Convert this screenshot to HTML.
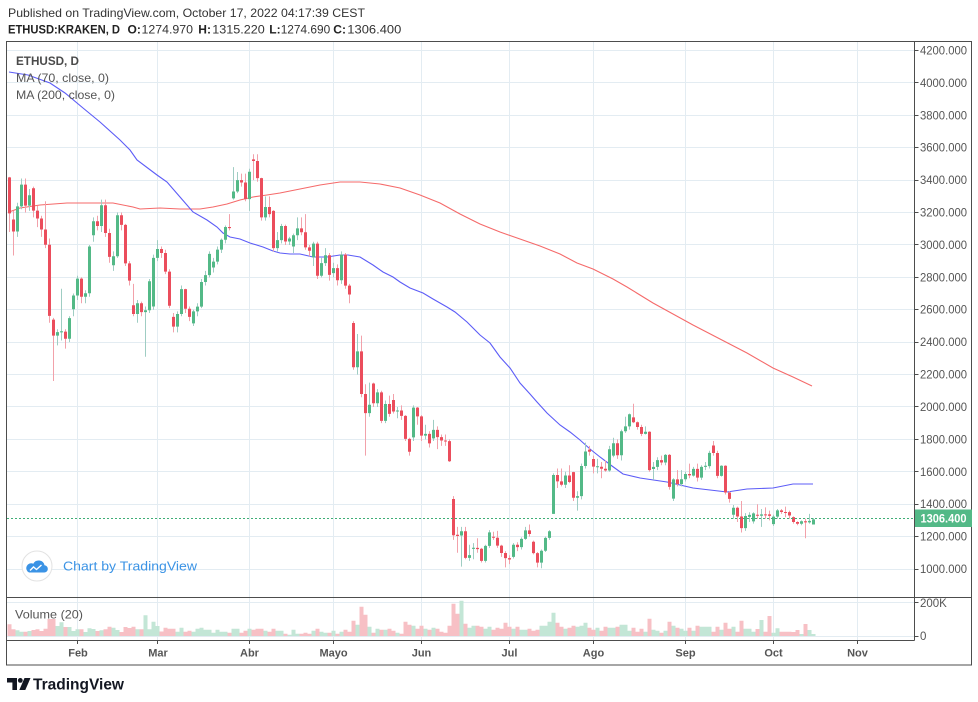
<!DOCTYPE html>
<html><head><meta charset="utf-8">
<style>
html,body{margin:0;padding:0;background:#fff;width:978px;height:702px;overflow:hidden}
svg{display:block}
text{font-family:"Liberation Sans",Arial,sans-serif}
</style></head>
<body>
<svg width="978" height="702" viewBox="0 0 978 702" xmlns="http://www.w3.org/2000/svg">
<rect width="978" height="702" fill="#fff"/>
<!-- header -->
<text x="8" y="17" font-size="12" fill="#333" textLength="357" lengthAdjust="spacingAndGlyphs">Published on TradingView.com, October 17, 2022 04:17:39 CEST</text>
<text x="8" y="33.5" font-size="12" font-weight="bold" fill="#222" textLength="112" lengthAdjust="spacingAndGlyphs">ETHUSD:KRAKEN, D</text>
<text x="127.5" y="33.5" font-size="12" font-weight="bold" fill="#222">O:</text>
<text x="141.5" y="33.5" font-size="12" fill="#333" textLength="51.5" lengthAdjust="spacingAndGlyphs">1274.970</text>
<text x="198.3" y="33.5" font-size="12" font-weight="bold" fill="#222">H:</text>
<text x="212.3" y="33.5" font-size="12" fill="#333" textLength="52.5" lengthAdjust="spacingAndGlyphs">1315.220</text>
<text x="269.3" y="33.5" font-size="12" font-weight="bold" fill="#222">L:</text>
<text x="280.7" y="33.5" font-size="12" fill="#333" textLength="49.5" lengthAdjust="spacingAndGlyphs">1274.690</text>
<text x="333.3" y="33.5" font-size="12" font-weight="bold" fill="#222">C:</text>
<text x="347.3" y="33.5" font-size="12" fill="#333" textLength="54" lengthAdjust="spacingAndGlyphs">1306.400</text>

<!-- grid -->
<g stroke="#e3ecf2" stroke-width="1" fill="none">
<path d="M7,50.5H914M7,82.5H914M7,115.5H914M7,147.5H914M7,180.5H914M7,212.5H914M7,244.5H914M7,277.5H914M7,309.5H914M7,342.5H914M7,374.5H914M7,406.5H914M7,439.5H914M7,471.5H914M7,504.5H914M7,536.5H914M7,569.5H914"/>
<path d="M7,602.5H914M7,636.5H914"/>
<path d="M77.5,42V640M157.5,42V640M249.5,42V640M333.5,42V640M421.5,42V640M509.5,42V640M593.5,42V640M685.5,42V640M773.5,42V640M857.5,42V640"/>
</g>

<!-- volume -->
<g transform="translate(7.5,636) scale(4,-1)">
<path fill="#c3e6d6" d="M2,0V5.7h1V0zM3,0V4.3h1V0zM5,0V5h1V0zM12,0V10h1V0zM13,0V13.7h1V0zM15,0V9h1V0zM16,0V5h1V0zM17,0V6.7h1V0zM19,0V4h1V0zM20,0V7.7h1V0zM21,0V7h1V0zM23,0V5.7h1V0zM26,0V8.3h1V0zM27,0V6h1V0zM32,0V6.7h1V0zM34,0V20.7h1V0zM35,0V6.7h1V0zM36,0V14.3h1V0zM37,0V10h1V0zM42,0V4.3h1V0zM43,0V8.3h1V0zM46,0V4.3h1V0zM47,0V7.3h1V0zM48,0V8.3h1V0zM49,0V6.3h1V0zM50,0V6.3h1V0zM51,0V3.3h1V0zM52,0V6.3h1V0zM53,0V4.3h1V0zM54,0V4.3h1V0zM56,0V7.3h1V0zM57,0V7.3h1V0zM60,0V7.3h1V0zM64,0V5.3h1V0zM67,0V5.3h1V0zM68,0V5.3h1V0zM70,0V1.3h1V0zM71,0V6.3h1V0zM72,0V2.3h1V0zM76,0V5.3h1V0zM78,0V4.3h1V0zM79,0V3.3h1V0zM81,0V5.3h1V0zM83,0V4.3h1V0zM87,0V11.3h1V0zM90,0V9.3h1V0zM92,0V7.3h1V0zM94,0V6.3h1V0zM97,0V3.3h1V0zM101,0V10.3h1V0zM104,0V7.3h1V0zM106,0V8.3h1V0zM113,0V35.3h1V0zM115,0V8.3h1V0zM116,0V10.3h1V0zM119,0V7.3h1V0zM120,0V9.3h1V0zM126,0V7.3h1V0zM128,0V6.3h1V0zM129,0V6.3h1V0zM133,0V10.3h1V0zM134,0V10.3h1V0zM135,0V14.3h1V0zM136,0V23.3h1V0zM139,0V7.3h1V0zM142,0V9.3h1V0zM143,0V10.3h1V0zM144,0V13.3h1V0zM147,0V8.3h1V0zM150,0V8.3h1V0zM151,0V8.3h1V0zM153,0V11.3h1V0zM154,0V11.3h1V0zM155,0V5.3h1V0zM159,0V4.3h1V0zM161,0V6.3h1V0zM162,0V5.3h1V0zM164,0V5.3h1V0zM166,0V10.3h1V0zM168,0V7.3h1V0zM169,0V5.3h1V0zM171,0V5.3h1V0zM173,0V9.3h1V0zM174,0V9.3h1V0zM175,0V9.3h1V0zM178,0V6.3h1V0zM181,0V9.3h1V0zM184,0V7.3h1V0zM185,0V7.3h1V0zM186,0V4.3h1V0zM188,0V16h1V0zM191,0V3.3h1V0zM192,0V7.7h1V0zM198,0V2h1V0zM200,0V6h1V0zM201,0V2h1V0z"/>
<path fill="#f7c0c5" d="M0,0V11.7h1V0zM1,0V6.7h1V0zM4,0V4.3h1V0zM6,0V6h1V0zM7,0V6.7h1V0zM8,0V5h1V0zM9,0V7.3h1V0zM10,0V17h1V0zM11,0V17h1V0zM14,0V9h1V0zM18,0V6.7h1V0zM22,0V5h1V0zM24,0V6.7h1V0zM25,0V9.3h1V0zM28,0V4h1V0zM29,0V9h1V0zM30,0V8h1V0zM31,0V9.3h1V0zM33,0V6.7h1V0zM38,0V4.5h1V0zM39,0V8.3h1V0zM40,0V7.3h1V0zM41,0V7.3h1V0zM44,0V4.3h1V0zM45,0V5.3h1V0zM55,0V3.3h1V0zM58,0V3.3h1V0zM59,0V5.3h1V0zM61,0V6.3h1V0zM62,0V7.3h1V0zM63,0V7.3h1V0zM65,0V4.3h1V0zM66,0V7.3h1V0zM69,0V2.3h1V0zM73,0V2.3h1V0zM74,0V3.3h1V0zM75,0V2.3h1V0zM77,0V7.3h1V0zM80,0V3.3h1V0zM82,0V2.3h1V0zM84,0V6.3h1V0zM85,0V4.3h1V0zM86,0V15.3h1V0zM88,0V29.3h1V0zM89,0V21.3h1V0zM91,0V3.3h1V0zM93,0V6.3h1V0zM95,0V7.3h1V0zM96,0V5.3h1V0zM98,0V2.3h1V0zM99,0V14.3h1V0zM100,0V11.3h1V0zM102,0V7.3h1V0zM103,0V10.3h1V0zM105,0V6.3h1V0zM107,0V7.3h1V0zM108,0V4.3h1V0zM109,0V3.3h1V0zM110,0V10.3h1V0zM111,0V32.3h1V0zM112,0V22.3h1V0zM114,0V12.3h1V0zM117,0V10.3h1V0zM118,0V9.3h1V0zM121,0V6.3h1V0zM122,0V8.3h1V0zM123,0V7.3h1V0zM124,0V13.3h1V0zM125,0V9.3h1V0zM127,0V9.3h1V0zM130,0V7.3h1V0zM131,0V5.3h1V0zM132,0V6.3h1V0zM137,0V13.3h1V0zM138,0V9.3h1V0zM140,0V8.3h1V0zM141,0V10.3h1V0zM145,0V8.3h1V0zM146,0V6.3h1V0zM148,0V5.3h1V0zM149,0V9.3h1V0zM152,0V9.3h1V0zM156,0V8.3h1V0zM157,0V4.3h1V0zM158,0V7.3h1V0zM160,0V17.3h1V0zM163,0V3.3h1V0zM165,0V14.3h1V0zM167,0V8.3h1V0zM170,0V8.3h1V0zM172,0V10.3h1V0zM176,0V4.3h1V0zM177,0V9.3h1V0zM179,0V13.3h1V0zM180,0V7.3h1V0zM182,0V4.3h1V0zM183,0V15.3h1V0zM187,0V7h1V0zM189,0V4.3h1V0zM190,0V20h1V0zM193,0V4.3h1V0zM194,0V4.3h1V0zM195,0V4.3h1V0zM196,0V4h1V0zM197,0V6h1V0zM199,0V12h1V0z"/>
</g>

<!-- MA lines -->
<polyline fill="none" stroke="#f56a6a" stroke-width="1.1" points="9,212 20,208 40,205 67,203 113,203 133,207 140,209 160,208 180,209 200,209 213,207 227,204 240,200 253,197 267,195 280,193 300,189 320,185 340,182 360,182 380,184 400,188 420,195 440,203 460,214 480,224 500,232 520,239 540,246 560,254 577,263 593,269 613,279 627,287 653,303 673,314 693,325 720,339 747,353 773,368 793,377 812,386"/>
<polyline fill="none" stroke="#5c5cf7" stroke-width="1.1" points="9,72 28,75 50,83 65,93 83,108 100,122 120,140 130,150 137,160 157,175 167,182 180,197 193,212 207,220 217,227 223,233 230,237 240,239 250,243 263,247 273,251 280,253 290,254 300,254 313,257 327,257 340,255 348,255 360,257 373,265 383,272 393,277 400,282 410,288 423,293 433,299 447,307 455,312 467,322 480,335 490,343 500,357 510,368 520,383 530,394 537,402 547,413 560,425 570,432 580,440 590,449 600,457 612,466 623,474 640,478 667,482 693,488 727,492 747,489 773,488 793,484 813,484"/>

<!-- candles -->
<g transform="matrix(4,0,0,-0.16203,8,731.03)">
<path fill="#9fcdc3" d="M2.25,3050V3260h.25V3050zM3.25,3220V3410h.25V3220zM5.25,3210V3345h.25V3210zM12.25,2380V2480h.25V2380zM13.25,2410V2730h.25V2410zM15.25,2400V2560h.25V2400zM16.25,2560V2700h.25V2560zM17.25,2660V2810h.25V2660zM19.25,2640V2720h.25V2640zM20.25,2680V3000h.25V2680zM21.25,3020V3170h.25V3020zM23.25,3080V3280h.25V3080zM26.25,2840V2960h.25V2840zM27.25,2920V3200h.25V2920zM32.25,2520V2660h.25V2520zM34.25,2310V2620h.25V2310zM35.25,2580V2790h.25V2580zM36.25,2600V2940h.25V2600zM37.25,2900V3030h.25V2900zM42.25,2460V2590h.25V2460zM43.25,2560V2750h.25V2560zM46.25,2500V2600h.25V2500zM47.25,2560V2640h.25V2560zM48.25,2610V2790h.25V2610zM49.25,2750V2840h.25V2750zM50.25,2800V2960h.25V2800zM51.25,2830V2920h.25V2830zM52.25,2880V2990h.25V2880zM53.25,2950V3040h.25V2950zM54.25,3010V3120h.25V3010zM56.25,3280V3480h.25V3280zM57.25,3320V3450h.25V3320zM60.25,3210V3470h.25V3210zM64.25,3150V3300h.25V3150zM67.25,2960V3080h.25V2960zM68.25,3010V3130h.25V3010zM70.25,3000V3050h.25V3000zM71.25,2950V3070h.25V2950zM72.25,3030V3170h.25V3030zM76.25,2870V3020h.25V2870zM78.25,2800V2920h.25V2800zM79.25,2870V2980h.25V2870zM81.25,2800V2890h.25V2800zM83.25,2760V2960h.25V2760zM87.25,2200V2450h.25V2200zM90.25,1940V2150h.25V1940zM92.25,2000V2110h.25V2000zM94.25,1900V2040h.25V1900zM97.25,1930V2000h.25V1930zM101.25,1790V2010h.25V1790zM104.25,1800V1890h.25V1800zM106.25,1790V1920h.25V1790zM113.25,1015V1260h.25V1015zM115.25,1050V1150h.25V1050zM116.25,1060V1160h.25V1060zM119.25,1040V1150h.25V1040zM120.25,1130V1240h.25V1130zM126.25,1065V1160h.25V1065zM128.25,1120V1195h.25V1120zM129.25,1180V1260h.25V1180zM133.25,1005V1120h.25V1005zM134.25,1105V1200h.25V1105zM135.25,1180V1240h.25V1180zM136.25,1340V1590h.25V1340zM139.25,1500V1600h.25V1500zM142.25,1360V1480h.25V1360zM143.25,1430V1650h.25V1430zM144.25,1620V1780h.25V1620zM147.25,1590V1680h.25V1590zM150.25,1600V1760h.25V1600zM151.25,1690V1810h.25V1690zM153.25,1670V1860h.25V1670zM154.25,1840V1940h.25V1840zM155.25,1860V1960h.25V1860zM159.25,1830V1880h.25V1830zM161.25,1550V1660h.25V1550zM162.25,1610V1690h.25V1610zM164.25,1640V1710h.25V1640zM166.25,1420V1560h.25V1420zM168.25,1510V1610h.25V1510zM169.25,1540V1600h.25V1540zM171.25,1570V1630h.25V1570zM173.25,1550V1640h.25V1550zM174.25,1610V1660h.25V1610zM175.25,1620V1730h.25V1620zM178.25,1570V1640h.25V1570zM181.25,1310V1395h.25V1310zM184.25,1235V1345h.25V1235zM185.25,1290V1350h.25V1290zM186.25,1280V1350h.25V1280zM188.25,1260V1370h.25V1260zM191.25,1265V1335h.25V1265zM192.25,1310V1370h.25V1310zM198.25,1270V1300h.25V1270zM200.25,1280V1340h.25V1280zM201.25,1275V1315h.25V1275z"/>
<path fill="#f2a1aa" d="M.25,3080V3420h.25V3080zM1.25,2935V3210h.25V2935zM4.25,3200V3410h.25V3200zM6.25,3170V3360h.25V3170zM7.25,3110V3240h.25V3110zM8.25,3050V3180h.25V3050zM9.25,2980V3270h.25V2980zM10.25,2520V3040h.25V2520zM11.25,2160V2550h.25V2160zM14.25,2360V2480h.25V2360zM18.25,2640V2800h.25V2640zM22.25,3090V3180h.25V3090zM24.25,3050V3280h.25V3050zM25.25,2890V3100h.25V2890zM28.25,3090V3200h.25V3090zM29.25,2870V3130h.25V2870zM30.25,2750V2900h.25V2750zM31.25,2560V2760h.25V2560zM33.25,2560V2650h.25V2560zM38.25,2920V2990h.25V2920zM39.25,2820V2970h.25V2820zM40.25,2610V2850h.25V2610zM41.25,2460V2580h.25V2460zM44.25,2580V2730h.25V2580zM45.25,2530V2620h.25V2530zM55.25,3090V3190h.25V3090zM58.25,3360V3440h.25V3360zM59.25,3270V3440h.25V3270zM61.25,3400V3560h.25V3400zM62.25,3390V3560h.25V3390zM63.25,3150V3415h.25V3150zM65.25,3170V3300h.25V3170zM66.25,2960V3215h.25V2960zM69.25,3000V3125h.25V3000zM73.25,3060V3170h.25V3060zM74.25,2970V3190h.25V2970zM75.25,2930V3000h.25V2930zM77.25,2790V3020h.25V2790zM80.25,2780V2950h.25V2780zM82.25,2750V2880h.25V2750zM84.25,2730V2950h.25V2730zM85.25,2640V2760h.25V2640zM86.25,2230V2530h.25V2230zM88.25,2060V2440h.25V2060zM89.25,1700V2140h.25V1700zM91.25,2000V2150h.25V2000zM93.25,1900V2100h.25V1900zM95.25,1940V2070h.25V1940zM96.25,1960V2080h.25V1960zM98.25,1920V2010h.25V1920zM99.25,1790V1950h.25V1790zM100.25,1700V1810h.25V1700zM102.25,1890V2000h.25V1890zM103.25,1790V1950h.25V1790zM105.25,1750V1850h.25V1750zM107.25,1740V1880h.25V1740zM108.25,1760V1830h.25V1760zM109.25,1760V1830h.25V1760zM110.25,1660V1800h.25V1660zM111.25,1180V1450h.25V1180zM112.25,1100V1260h.25V1100zM114.25,1060V1260h.25V1060zM117.25,1100V1190h.25V1100zM118.25,1040V1130h.25V1040zM121.25,1180V1230h.25V1180zM122.25,1130V1235h.25V1130zM123.25,1075V1150h.25V1075zM124.25,1010V1110h.25V1010zM125.25,1030V1085h.25V1030zM127.25,1110V1165h.25V1110zM130.25,1200V1275h.25V1200zM131.25,1090V1175h.25V1090zM132.25,1010V1105h.25V1010zM137.25,1500V1620h.25V1500zM138.25,1510V1620h.25V1510zM140.25,1530V1640h.25V1530zM141.25,1420V1600h.25V1420zM145.25,1700V1760h.25V1700zM146.25,1590V1700h.25V1590zM148.25,1560V1660h.25V1560zM149.25,1600V1670h.25V1600zM152.25,1680V1800h.25V1680zM156.25,1900V2020h.25V1900zM157.25,1860V1910h.25V1860zM158.25,1820V1890h.25V1820zM160.25,1600V1850h.25V1600zM163.25,1640V1700h.25V1640zM165.25,1490V1710h.25V1490zM167.25,1510V1610h.25V1510zM170.25,1560V1650h.25V1560zM172.25,1540V1650h.25V1540zM176.25,1700V1790h.25V1700zM177.25,1560V1730h.25V1560zM179.25,1460V1640h.25V1460zM180.25,1410V1480h.25V1410zM182.25,1290V1385h.25V1290zM183.25,1225V1420h.25V1225zM187.25,1310V1400h.25V1310zM189.25,1310V1380h.25V1310zM190.25,1300V1360h.25V1300zM193.25,1340V1370h.25V1340zM194.25,1320V1385h.25V1320zM195.25,1310V1360h.25V1310zM196.25,1280V1325h.25V1280zM197.25,1270V1295h.25V1270zM199.25,1190V1310h.25V1190z"/>
<path fill="#53b987" d="M2,3083V3238h.75V3083zM3,3238V3372h.75V3238zM5,3243V3307h.75V3243zM12,2440V2462h.75V2440zM13,2460V2467h.75V2460zM15,2421V2548h.75V2421zM16,2603V2688h.75V2603zM17,2688V2792h.75V2688zM19,2680V2702h.75V2680zM20,2702V2990h.75V2702zM21,3060V3146h.75V3060zM23,3117V3245h.75V3117zM26,2875V2930h.75V2875zM27,2930V3183h.75V2930zM32,2574V2640h.75V2574zM34,2585V2597h.75V2585zM35,2597V2776h.75V2597zM36,2620V2920h.75V2620zM37,2920V2975h.75V2920zM42,2496V2574h.75V2496zM43,2574V2727h.75V2574zM46,2516V2590h.75V2516zM47,2590V2619h.75V2590zM48,2619V2771h.75V2619zM49,2771V2814h.75V2771zM50,2814V2945h.75V2814zM51,2861V2897h.75V2861zM52,2897V2971h.75V2897zM53,2971V3032h.75V2971zM54,3032V3111h.75V3032zM56,3287V3330h.75V3287zM57,3330V3400h.75V3330zM60,3283V3452h.75V3283zM64,3170V3234h.75V3170zM67,2980V3030h.75V2980zM68,3030V3117h.75V3030zM70,3021V3040h.75V3021zM71,2990V3060h.75V2990zM72,3060V3102h.75V3060zM76,2923V3008h.75V2923zM78,2810V2888h.75V2810zM79,2888V2936h.75V2888zM81,2826V2857h.75V2826zM83,2782V2940h.75V2782zM87,2245V2343h.75V2245zM90,1962V2014h.75V1962zM92,2023V2090h.75V2023zM94,1914V2018h.75V1914zM97,1972V1978h.75V1972zM101,1812V1996h.75V1812zM104,1823V1834h.75V1823zM106,1806V1859h.75V1806zM113,1207V1233h.75V1207zM115,1069V1086h.75V1069zM116,1124V1131h.75V1124zM119,1050V1143h.75V1050zM120,1143V1226h.75V1143zM126,1075V1150h.75V1075zM128,1135V1186h.75V1135zM129,1186V1238h.75V1186zM133,1039V1113h.75V1039zM134,1113V1192h.75V1113zM135,1192V1233h.75V1192zM136,1340V1580h.75V1340zM139,1520V1577h.75V1520zM142,1440V1450h.75V1440zM143,1450V1636h.75V1450zM144,1636V1725h.75V1636zM147,1628V1634h.75V1628zM150,1608V1739h.75V1608zM151,1700V1776h.75V1700zM153,1702V1850h.75V1702zM154,1850V1880h.75V1850zM155,1880V1955h.75V1880zM159,1834V1847h.75V1834zM161,1617V1630h.75V1617zM162,1630V1672h.75V1630zM164,1657V1704h.75V1657zM166,1434V1553h.75V1434zM168,1524V1554h.75V1524zM169,1554V1586h.75V1554zM171,1576V1618h.75V1576zM173,1564V1630h.75V1564zM174,1630V1637h.75V1630zM175,1635V1717h.75V1635zM178,1575V1637h.75V1575zM181,1335V1378h.75V1335zM184,1252V1327h.75V1252zM185,1322V1334h.75V1322zM186,1294V1343h.75V1294zM188,1329V1337h.75V1329zM191,1277V1323h.75V1277zM192,1323V1362h.75V1323zM198,1279V1295h.75V1279zM200,1288V1297h.75V1288zM201,1275V1306h.75V1275z"/>
<path fill="#eb4d5c" d="M0,3417V3195h.75V3417zM1,3157V3083h.75V3157zM4,3372V3243h.75V3372zM6,3350V3212h.75V3350zM7,3212V3163h.75V3212zM8,3163V3095h.75V3163zM9,3095V3001h.75V3095zM10,3001V2562h.75V3001zM11,2539V2440h.75V2539zM14,2465V2421h.75V2465zM18,2792V2680h.75V2792zM22,3146V3117h.75V3146zM24,3245V3074h.75V3245zM25,3074V2926h.75V3074zM28,3183V3124h.75V3183zM29,3124V2886h.75V3124zM30,2886V2780h.75V2886zM31,2628V2574h.75V2628zM33,2640V2585h.75V2640zM38,2975V2950h.75V2975zM39,2950V2835h.75V2950zM40,2835V2625h.75V2835zM41,2556V2496h.75V2556zM44,2727V2606h.75V2727zM45,2606V2556h.75V2606zM55,3111V3104h.75V3111zM58,3400V3385h.75V3400zM59,3385V3283h.75V3385zM61,3528V3518h.75V3528zM62,3518V3412h.75V3518zM63,3412V3170h.75V3412zM65,3234V3190h.75V3234zM66,3210V2980h.75V3210zM69,3117V3021h.75V3117zM73,3102V3078h.75V3102zM74,3078V2985h.75V3078zM75,2985V2964h.75V2985zM77,3008V2810h.75V3008zM80,2936V2815h.75V2936zM82,2857V2782h.75V2857zM84,2940V2749h.75V2940zM85,2749V2694h.75V2749zM86,2518V2245h.75V2518zM88,2343V2080h.75V2343zM89,2080V1962h.75V2080zM91,2145V2023h.75V2145zM93,2090V1914h.75V2090zM95,2018V1957h.75V2018zM96,2043V1972h.75V2043zM98,1978V1945h.75V1978zM99,1945V1803h.75V1945zM100,1803V1724h.75V1803zM102,1996V1942h.75V1996zM103,1942V1823h.75V1942zM105,1834V1775h.75V1834zM107,1859V1814h.75V1859zM108,1814V1793h.75V1814zM109,1793V1787h.75V1793zM110,1789V1665h.75V1789zM111,1432V1208h.75V1432zM112,1211V1204h.75V1211zM114,1233V1069h.75V1233zM117,1130V1123h.75V1130zM118,1125V1050h.75V1125zM121,1199V1193h.75V1199zM122,1193V1144h.75V1193zM123,1144V1099h.75V1144zM124,1099V1067h.75V1099zM125,1067V1059h.75V1067zM127,1150V1135h.75V1150zM130,1238V1216h.75V1238zM131,1168V1098h.75V1168zM132,1098V1039h.75V1098zM137,1580V1541h.75V1580zM138,1541V1520h.75V1541zM140,1577V1537h.75V1577zM141,1598V1440h.75V1598zM145,1737V1724h.75V1737zM146,1679V1632h.75V1679zM148,1631V1619h.75V1631zM149,1619V1608h.75V1619zM152,1776V1702h.75V1776zM156,1936V1906h.75V1936zM157,1906V1876h.75V1906zM158,1876V1834h.75V1876zM160,1847V1610h.75V1847zM163,1672V1657h.75V1672zM165,1704V1507h.75V1704zM167,1553V1524h.75V1553zM170,1586V1578h.75V1586zM172,1618V1564h.75V1618zM176,1762V1716h.75V1762zM177,1716V1575h.75V1716zM179,1637V1472h.75V1637zM180,1472V1433h.75V1472zM182,1378V1324h.75V1378zM183,1324V1252h.75V1324zM187,1335V1329h.75V1335zM189,1337V1331h.75V1337zM190,1337V1328h.75V1337zM193,1362V1352h.75V1362zM194,1352V1346h.75V1352zM195,1351V1330h.75V1351zM196,1320V1290h.75V1320zM197,1290V1279h.75V1290zM199,1295V1288h.75V1295z"/>
</g>

<!-- last price dashed line -->
<line x1="7" y1="518.5" x2="914" y2="518.5" stroke="#3fae76" stroke-width="1" stroke-dasharray="2,2"/>

<!-- legend -->
<text x="16" y="65" font-size="12" font-weight="bold" fill="#4a4a4a" textLength="63" lengthAdjust="spacingAndGlyphs">ETHUSD, D</text>
<text x="16" y="82" font-size="12" fill="#555" textLength="93" lengthAdjust="spacingAndGlyphs">MA (70, close, 0)</text>
<text x="16" y="99" font-size="12" fill="#555" textLength="99" lengthAdjust="spacingAndGlyphs">MA (200, close, 0)</text>
<text x="15" y="618.5" font-size="12" fill="#555" textLength="68" lengthAdjust="spacingAndGlyphs">Volume (20)</text>

<!-- watermark -->
<circle cx="37" cy="566" r="15" fill="#fff" stroke="#e2e2e2" stroke-width="1"/>
<path d="M29,572.5h15a3.6,3.6 0 0 0 0.5,-7.2a6,6 0 0 0 -11.2,-1.6a4.4,4.4 0 0 0 -4.3,8.8z" fill="#3b93e5"/>
<path d="M30,570.5l3.5,-3.5l3,2.5l5,-4.5" fill="none" stroke="#fff" stroke-width="1.4"/>
<text x="63" y="570.5" font-size="13" fill="#3b93e5" textLength="134" lengthAdjust="spacingAndGlyphs">Chart by TradingView</text>

<!-- frame & axes -->
<g stroke="#4d4d4d" fill="none" stroke-width="1">
<rect x="6.5" y="41.5" width="965" height="623.5"/>
<path d="M914.5,42V640.5M7,597.5H971M7,640.5H914.5"/>
<path d="M914.5,50.5h4M914.5,82.5h4M914.5,115.5h4M914.5,147.5h4M914.5,180.5h4M914.5,212.5h4M914.5,244.5h4M914.5,277.5h4M914.5,309.5h4M914.5,342.5h4M914.5,374.5h4M914.5,406.5h4M914.5,439.5h4M914.5,471.5h4M914.5,504.5h4M914.5,536.5h4M914.5,569.5h4M914.5,602.5h4M914.5,636.5h4"/>
<path d="M77.5,640v4M157.5,640v4M249.5,640v4M333.5,640v4M421.5,640v4M509.5,640v4M593.5,640v4M685.5,640v4M773.5,640v4M857.5,640v4"/>
</g>

<!-- price labels -->
<g font-size="11.5" fill="#555">
<text x="920" y="54.5" textLength="47" lengthAdjust="spacingAndGlyphs">4200.000</text>
<text x="920" y="86.9" textLength="47" lengthAdjust="spacingAndGlyphs">4000.000</text>
<text x="920" y="119.3" textLength="47" lengthAdjust="spacingAndGlyphs">3800.000</text>
<text x="920" y="151.7" textLength="47" lengthAdjust="spacingAndGlyphs">3600.000</text>
<text x="920" y="184.1" textLength="47" lengthAdjust="spacingAndGlyphs">3400.000</text>
<text x="920" y="216.5" textLength="47" lengthAdjust="spacingAndGlyphs">3200.000</text>
<text x="920" y="248.9" textLength="47" lengthAdjust="spacingAndGlyphs">3000.000</text>
<text x="920" y="281.3" textLength="47" lengthAdjust="spacingAndGlyphs">2800.000</text>
<text x="920" y="313.7" textLength="47" lengthAdjust="spacingAndGlyphs">2600.000</text>
<text x="920" y="346.2" textLength="47" lengthAdjust="spacingAndGlyphs">2400.000</text>
<text x="920" y="378.6" textLength="47" lengthAdjust="spacingAndGlyphs">2200.000</text>
<text x="920" y="411" textLength="47" lengthAdjust="spacingAndGlyphs">2000.000</text>
<text x="920" y="443.4" textLength="47" lengthAdjust="spacingAndGlyphs">1800.000</text>
<text x="920" y="475.8" textLength="47" lengthAdjust="spacingAndGlyphs">1600.000</text>
<text x="920" y="508.2" textLength="47" lengthAdjust="spacingAndGlyphs">1400.000</text>
<text x="920" y="540.6" textLength="47" lengthAdjust="spacingAndGlyphs">1200.000</text>
<text x="920" y="573" textLength="47" lengthAdjust="spacingAndGlyphs">1000.000</text>
<text x="920" y="607">200K</text>
<text x="920" y="640">0</text>
</g>
<rect x="915" y="509.5" width="57" height="17.5" fill="#53b987"/>
<text x="920.5" y="522.3" font-size="11.5" font-weight="bold" fill="#fff" textLength="46" lengthAdjust="spacingAndGlyphs">1306.400</text>

<!-- time labels -->
<g font-size="11" font-weight="bold" fill="#555" text-anchor="middle">
<text x="78" y="656.5">Feb</text>
<text x="158" y="656.5">Mar</text>
<text x="249.5" y="656.5">Abr</text>
<text x="333.5" y="656.5">Mayo</text>
<text x="421.5" y="656.5">Jun</text>
<text x="509.5" y="656.5">Jul</text>
<text x="593.5" y="656.5">Ago</text>
<text x="685.5" y="656.5">Sep</text>
<text x="773.5" y="656.5">Oct</text>
<text x="857.5" y="656.5">Nov</text>
</g>

<!-- bottom logo -->
<g fill="#131722">
<path d="M7,678h10v12h-4.6v-7.5H7z"/>
<circle cx="20.3" cy="680.4" r="2.4"/>
<path d="M24.5,678h6l-5.2,12h-6z"/>
</g>
<text x="33" y="689.5" font-size="15.5" font-weight="bold" fill="#131722" textLength="91" lengthAdjust="spacingAndGlyphs">TradingView</text>
</svg>
</body></html>
